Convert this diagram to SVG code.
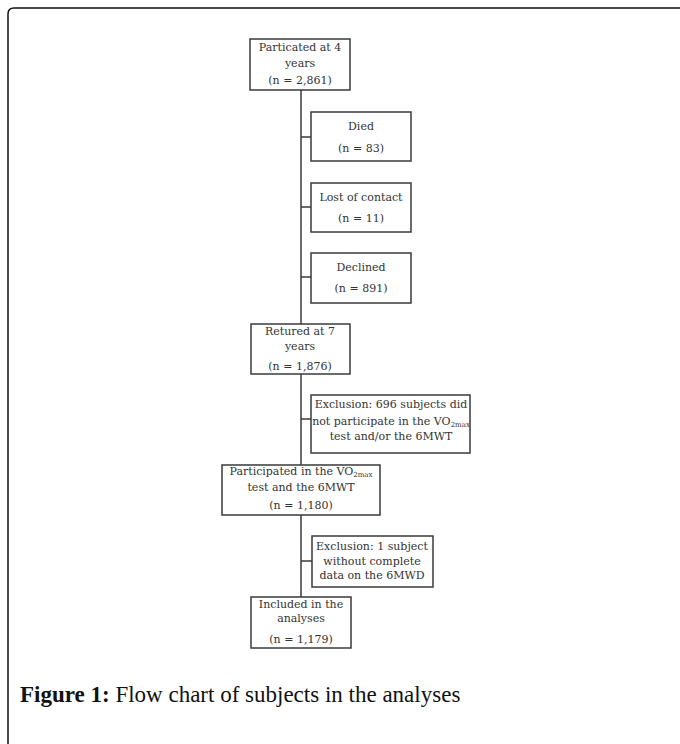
<svg xmlns="http://www.w3.org/2000/svg" width="680" height="744" viewBox="0 0 680 744">
<style>
.box{fill:#fff;stroke:#3a3a3a;stroke-width:1.5}
.t{font-family:"DejaVu Serif","Liberation Serif",serif;font-size:11px;fill:#333;text-anchor:middle}
.sub{font-size:7px}
.ln{stroke:#3a3a3a;stroke-width:1.5;fill:none}
.cap{font-family:"Liberation Serif",serif;font-size:23px;fill:#111}
</style>
<rect width="680" height="744" fill="#fff"/>
<path d="M8,744 V14 Q8,8 14,8 H680" fill="none" stroke="#111" stroke-width="1.5"/>
<g id="connectors">
<path class="ln" d="M301,90 V324"/>
<path class="ln" d="M301,374 V465"/>
<path class="ln" d="M301,515 V597"/>
<path class="ln" d="M301,137 H311"/>
<path class="ln" d="M301,207 H311"/>
<path class="ln" d="M301,277 H311"/>
<path class="ln" d="M301,419 H311"/>
<path class="ln" d="M301,561 H312"/>
</g>
<g id="n1">
<rect class="box" x="250" y="39" width="100" height="51"/>
<text class="t" x="300" y="51">Particated at 4</text>
<text class="t" x="300" y="67">years</text>
<text class="t" x="300" y="84">(n = 2,861)</text>
</g>
<g id="died">
<rect class="box" x="311" y="112" width="100" height="49"/>
<text class="t" x="361" y="130">Died</text>
<text class="t" x="361" y="152">(n = 83)</text>
</g>
<g id="lost">
<rect class="box" x="311" y="183" width="100" height="49"/>
<text class="t" x="361" y="201">Lost  of contact</text>
<text class="t" x="361" y="222">(n = 11)</text>
</g>
<g id="declined">
<rect class="box" x="311" y="253" width="100" height="50"/>
<text class="t" x="361" y="271">Declined</text>
<text class="t" x="361" y="292">(n = 891)</text>
</g>
<g id="returned">
<rect class="box" x="251" y="324" width="99" height="50"/>
<text class="t" x="300" y="335">Retured at 7</text>
<text class="t" x="300" y="350">years</text>
<text class="t" x="300" y="370">(n = 1,876)</text>
</g>
<g id="excl696">
<rect class="box" x="311" y="395" width="159" height="58"/>
<text class="t" x="391" y="408">Exclusion: 696 subjects did</text>
<text class="t" x="391" y="425">not participate in the VO<tspan class="sub" dy="2">2max</tspan></text>
<text class="t" x="391" y="440">test and/or the 6MWT</text>
</g>
<g id="participated">
<rect class="box" x="222" y="465" width="158" height="50"/>
<text class="t" x="301" y="475">Participated in the VO<tspan class="sub" dy="2">2max</tspan></text>
<text class="t" x="301" y="491">test and the 6MWT</text>
<text class="t" x="301" y="509">(n = 1,180)</text>
</g>
<g id="excl1">
<rect class="box" x="312" y="536" width="121" height="51"/>
<text class="t" x="372" y="550">Exclusion: 1 subject</text>
<text class="t" x="372" y="565">without complete</text>
<text class="t" x="372" y="579">data on the 6MWD</text>
</g>
<g id="included">
<rect class="box" x="251" y="597" width="100" height="51"/>
<text class="t" x="301" y="608">Included in the</text>
<text class="t" x="301" y="622">analyses</text>
<text class="t" x="301" y="643">(n = 1,179)</text>
</g>
<text class="cap" x="20" y="702"><tspan font-weight="bold">Figure 1:</tspan> Flow chart of subjects in the analyses</text>
</svg>
